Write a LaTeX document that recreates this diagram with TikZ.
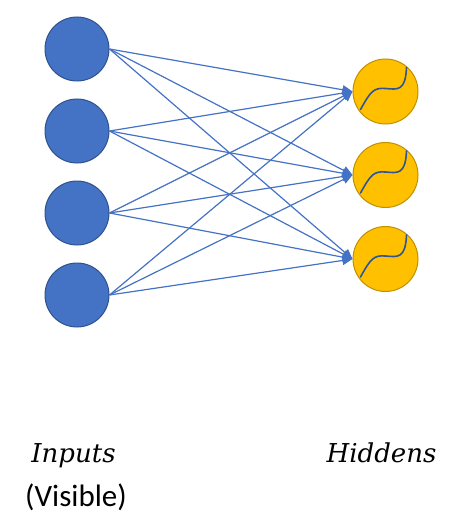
\documentclass[tikz,border=0pt]{standalone}
\usepackage{fontspec}
\newfontfamily\calib{Carlito}
\newfontfamily\serifit{DejaVu Serif}
\usetikzlibrary{arrows.meta}
\definecolor{inblue}{HTML}{4472C4}
\definecolor{inborder}{HTML}{2F528F}
\definecolor{hidfill}{HTML}{FFC000}
\definecolor{hidborder}{HTML}{BF9000}
\definecolor{curveblue}{HTML}{2F5597}
\tikzset{
  inneuron/.style={circle, fill=inblue, draw=inborder, line width=1pt, minimum size=64pt, inner sep=0pt},
  hidneuron/.style={circle, fill=hidfill, draw=hidborder, line width=1pt, minimum size=65pt, inner sep=0pt},
  conn/.style={draw=inblue, line width=1.2pt, -{Triangle[length=10pt,width=9pt]}},
  sigm/.style={draw=curveblue, line width=1.6pt, line cap=round},
  lbl/.style={inner sep=0pt, anchor=base}
}
\begin{document}
\begin{tikzpicture}[x=1pt,y=-1pt]
\useasboundingbox (0,0) rectangle (462,524);
\node[inneuron] (i1) at (77,49) {};
\node[inneuron] (i2) at (77,131) {};
\node[inneuron] (i3) at (77,213) {};
\node[inneuron] (i4) at (77,295) {};
\node[hidneuron] (h1) at (385.5,91.5) {};
\node[hidneuron] (h2) at (385.5,175) {};
\node[hidneuron] (h3) at (385.5,259) {};
\foreach \i in {1,2,3,4}{
  \foreach \h in {1,2,3}{
    \draw[conn] (i\i.east) -- (h\h.west);
  }
}
\foreach \h in {1,2,3}{
  \draw[sigm] ([shift={(-25,18)}]h\h.center)
    .. controls ([shift={(-15,0)}]h\h.center) and ([shift={(-12,-4)}]h\h.center) .. ([shift={(0,-3)}]h\h.center)
    .. controls ([shift={(12,-2)}]h\h.center) and ([shift={(20,0)}]h\h.center) .. ([shift={(21,-24)}]h\h.center);
}
\node[lbl] (t1) at (73.5,462) {\serifit\itshape\fontsize{26}{30}\selectfont Inputs};
\node[lbl] (t2) at (381.5,462) {\serifit\itshape\fontsize{26}{30}\selectfont Hiddens};
\node[lbl] (t3) at (76,506) {\calib\fontsize{31}{34}\selectfont(Visible)};
\end{tikzpicture}
\end{document}
